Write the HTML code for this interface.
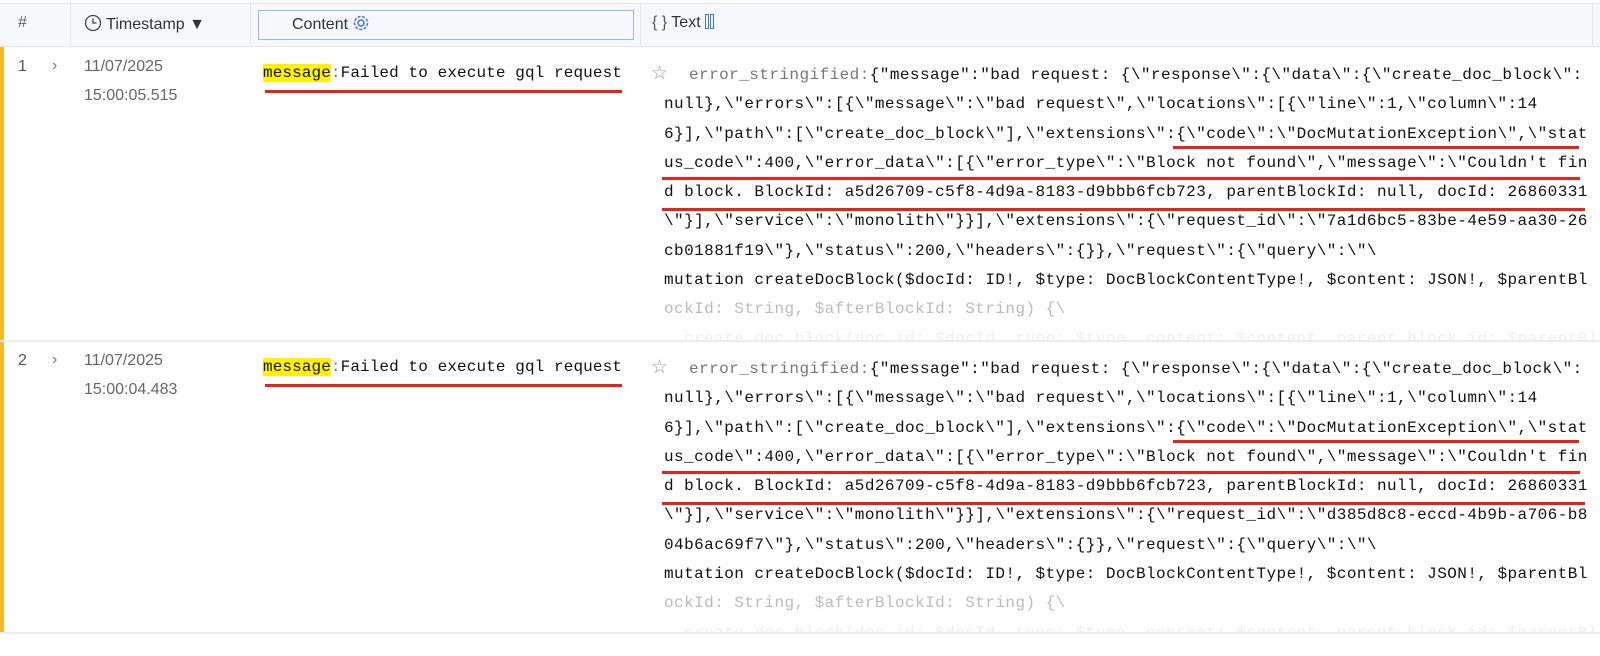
<!DOCTYPE html>
<html><head><meta charset="utf-8"><style>
*{margin:0;padding:0;box-sizing:border-box}
body{width:1600px;height:656px;background:#fff;position:relative;overflow:hidden;font-family:"Liberation Sans",sans-serif}
.hdr{position:absolute;left:0;top:3px;width:1600px;height:44px;background:#f6f8fc;border-top:1px solid #e3e6ec;border-bottom:1px solid #e1e5ec}
.vs{position:absolute;top:3px;height:44px;width:1px;background:#e1e5ec}
.ht{position:absolute;top:14px;font-size:16px;color:#333}
.bar{position:absolute;left:0;width:4px;background:#f7b924}
.sep{position:absolute;left:0;width:1600px;height:2px;background:#e8ebf0}
.num{position:absolute;left:18px;font-size:16px;color:#555}
.chev{position:absolute;left:52px;font-size:16px;color:#777}
.ts{position:absolute;left:84px;font-size:16px;color:#666;line-height:29px}
.msg{position:absolute;left:263px;font-family:"Liberation Mono",monospace;font-size:16px;letter-spacing:0.1px;color:#111;white-space:pre}
.msg .k{background:#fff200}
.txt{position:absolute;left:664px;font-family:"Liberation Mono",monospace;font-size:16px;letter-spacing:0.44px;line-height:29.3px;color:#111;white-space:pre}
.pin{display:inline-block;width:25px;position:relative}
.pin b{position:absolute;left:-13px;top:-20px;font-weight:normal;color:#99a;font-size:19px;font-family:"DejaVu Sans",sans-serif}
.g{color:#777}
.f1{color:#bbb}.f2{color:#eee}
.red{position:absolute;height:3px;background:#e8231a}
.cl{position:absolute;left:640px;width:960px;overflow:hidden}
</style></head><body>
<div class="hdr"></div>
<div class="vs" style="left:70px"></div><div class="vs" style="left:250px"></div><div class="vs" style="left:640px"></div><div class="vs" style="left:1592px"></div>
<div class="ht" style="left:18px;color:#666">#</div>
<div class="ht" style="left:84px"><svg width="18" height="18" viewBox="0 0 18 18" style="vertical-align:-3px"><circle cx="9" cy="9" r="7.5" fill="none" stroke="#444" stroke-width="1.3"/><path d="M9 4.5V9h3.5" fill="none" stroke="#444" stroke-width="1.3"/></svg> Timestamp &#9660;</div>
<div style="position:absolute;left:258px;top:10px;width:376px;height:30px;border:1px solid #9bb7e8;background:#f6f8fc"></div>
<div class="ht" style="left:292px">Content <svg width="18" height="18" viewBox="0 0 18 18" style="vertical-align:-3px"><circle cx="9" cy="9" r="3" fill="none" stroke="#3a78e0" stroke-width="1.5"/><circle cx="9" cy="9" r="6.5" fill="none" stroke="#3a78e0" stroke-width="1.5" stroke-dasharray="3 1.5"/></svg></div>
<div class="ht" style="left:652px;color:#555">{ } <span style="color:#333">Text</span> <span style="display:inline-block;width:4px;height:15px;border:1.5px solid #3a78e0;vertical-align:-2px"></span><span style="display:inline-block;width:4px;height:15px;border:1.5px solid #3a78e0;vertical-align:-2px;margin-left:1px"></span></div>

<div class="bar" style="top:47px;height:293px"></div>
<div class="bar" style="top:342px;height:291px"></div>

<div class="num" style="top:58px">1</div><div class="chev" style="top:57px">&#8250;</div>
<div class="ts" style="top:52px">11/07/2025<br>15:00:05.515</div>
<div class="msg" style="top:64px"><span class="k">message</span><span class="g">:</span>Failed to execute gql request</div>
<div class="red" style="left:265px;top:90px;width:357px"></div>
<div class="cl" style="top:47px;height:293px"><div class="txt" style="top:14px;left:24px"><span class="pin"><b>&#9734;</b></span><span class="g">error_stringified:</span>{"message":"bad request: {\"response\":{\"data\":{\"create_doc_block\":
null},\"errors\":[{\"message\":\"bad request\",\"locations\":[{\"line\":1,\"column\":14
6}],\"path\":[\"create_doc_block\"],\"extensions\":{\"code\":\"DocMutationException\",\"stat
us_code\":400,\"error_data\":[{\"error_type\":\"Block not found\",\"message\":\"Couldn't fin
d block. BlockId: a5d26709-c5f8-4d9a-8183-d9bbb6fcb723, parentBlockId: null, docId: 26860331
\"}],\"service\":\"monolith\"}}],\"extensions\":{\"request_id\":\"7a1d6bc5-83be-4e59-aa30-26
cb01881f19\"},\"status\":200,\"headers\":{}},\"request\":{\"query\":\"\
mutation createDocBlock($docId: ID!, $type: DocBlockContentType!, $content: JSON!, $parentBl
<span class="f1">ockId: String, $afterBlockId: String) {\</span>
<span class="f2">  create_doc_block(doc_id: $docId, type: $type, content: $content, parent_block_id: $parentBl</span></div></div>
<div class="red" style="left:1173px;top:146px;width:406px"></div>
<div class="red" style="left:662px;top:177px;width:918px"></div>
<div class="red" style="left:662px;top:208px;width:923px"></div>

<div class="num" style="top:352px">2</div><div class="chev" style="top:351px">&#8250;</div>
<div class="ts" style="top:346px">11/07/2025<br>15:00:04.483</div>
<div class="msg" style="top:358px"><span class="k">message</span><span class="g">:</span>Failed to execute gql request</div>
<div class="red" style="left:265px;top:384px;width:357px"></div>
<div class="cl" style="top:342px;height:291px"><div class="txt" style="top:13px;left:24px"><span class="pin"><b>&#9734;</b></span><span class="g">error_stringified:</span>{"message":"bad request: {\"response\":{\"data\":{\"create_doc_block\":
null},\"errors\":[{\"message\":\"bad request\",\"locations\":[{\"line\":1,\"column\":14
6}],\"path\":[\"create_doc_block\"],\"extensions\":{\"code\":\"DocMutationException\",\"stat
us_code\":400,\"error_data\":[{\"error_type\":\"Block not found\",\"message\":\"Couldn't fin
d block. BlockId: a5d26709-c5f8-4d9a-8183-d9bbb6fcb723, parentBlockId: null, docId: 26860331
\"}],\"service\":\"monolith\"}}],\"extensions\":{\"request_id\":\"d385d8c8-eccd-4b9b-a706-b8
04b6ac69f7\"},\"status\":200,\"headers\":{}},\"request\":{\"query\":\"\
mutation createDocBlock($docId: ID!, $type: DocBlockContentType!, $content: JSON!, $parentBl
<span class="f1">ockId: String, $afterBlockId: String) {\</span>
<span class="f2">  create_doc_block(doc_id: $docId, type: $type, content: $content, parent_block_id: $parentBl</span></div></div>
<div class="red" style="left:1173px;top:440px;width:406px"></div>
<div class="red" style="left:662px;top:471px;width:918px"></div>
<div class="red" style="left:662px;top:502px;width:923px"></div>
<div class="sep" style="top:340px"></div>
<div class="sep" style="top:632px"></div>
</body></html>
